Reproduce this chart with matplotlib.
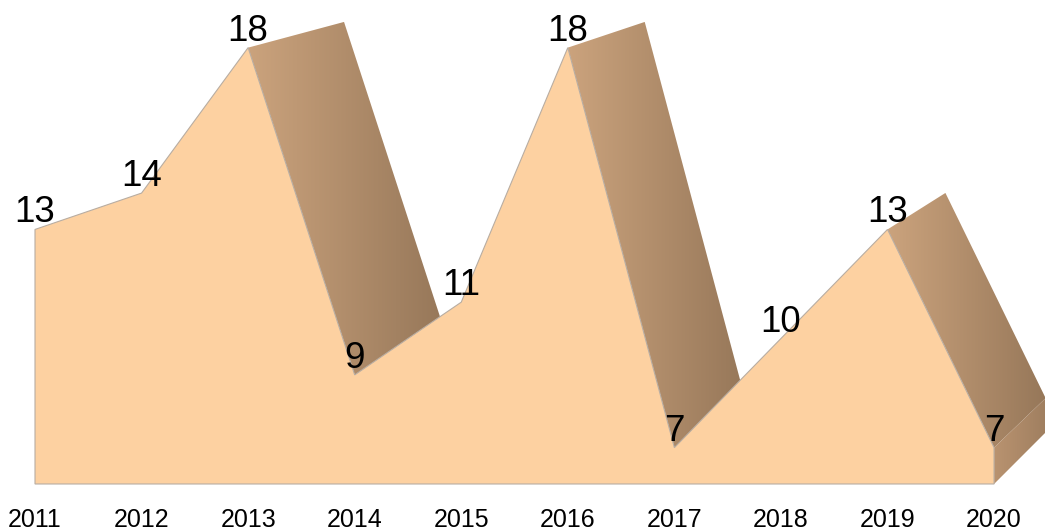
import numpy as np
import matplotlib
matplotlib.use('Agg')
import matplotlib.pyplot as plt
from matplotlib.patches import Polygon
from matplotlib.colors import LinearSegmentedColormap

# ---- data ----
years = ['2011', '2012', '2013', '2014', '2015', '2016', '2017', '2018', '2019', '2020']
values = [13, 14, 18, 9, 11, 18, 7, 10, 13, 7]

# ---- style / geometry parameters ----
Y_MIN = 6
FRONT = '#fdd1a1'
EDGE = '#b8ada2'
SIDE_LIGHT = '#cba37d'
SIDE_DARK = '#967759'
WALL_LIGHT = '#b99370'
WALL_DARK = '#a07f60'
VP = (17.15, 29.9)     # vanishing point (data coords) of the depth direction
DEPTH = 0.0594         # relative depth of the back plane
FONT = ['Liberation Sans', 'DejaVu Sans']

fig = plt.figure(figsize=(10.45, 5.31), dpi=100)
ax = fig.add_axes([0, 0, 1, 1])
XLIM = (-0.3285, 9.478)
YLIM = (4.707, 19.31)

x = np.arange(len(values), dtype=float)
y = np.array(values, dtype=float)


def back(px, py):
    return (px + DEPTH * (VP[0] - px), py + DEPTH * (VP[1] - py))


def cross(a, b, c):
    return (b[0] - a[0]) * (c[1] - a[1]) - (b[1] - a[1]) * (c[0] - a[0])


side_cmap = LinearSegmentedColormap.from_list('side', [SIDE_LIGHT, SIDE_DARK])
wall_cmap = LinearSegmentedColormap.from_list('wall', [WALL_LIGHT, WALL_DARK])
grad = np.linspace(0, 1, 256).reshape(1, -1)

faces = []
# top surfaces between consecutive points
for i in range(len(x) - 1):
    p0 = (x[i], y[i]); p1 = (x[i + 1], y[i + 1])
    faces.append(([p0, p1, back(*p1), back(*p0)], side_cmap))
# end walls
n = len(x) - 1
faces.append(([(x[n], y[n]), (x[n], Y_MIN), back(x[n], Y_MIN), back(x[n], y[n])], wall_cmap))
faces.append(([(x[0], Y_MIN), (x[0], y[0]), back(x[0], y[0]), back(x[0], Y_MIN)], wall_cmap))

for f, cm in faces:
    if cross(f[0], f[1], f[3]) <= 0:
        continue  # back-facing
    poly = Polygon(f, closed=True, facecolor='none', edgecolor='none', zorder=1)
    ax.add_patch(poly)
    xs = [p[0] for p in f]; ys = [p[1] for p in f]
    im = ax.imshow(grad, cmap=cm, extent=(min(xs), max(xs), min(ys), max(ys)),
                   aspect='auto', origin='lower', zorder=1, interpolation='bilinear')
    im.set_clip_path(poly)

front = [(x[0], Y_MIN)] + list(zip(x, y)) + [(x[-1], Y_MIN)]
ax.add_patch(Polygon(front, closed=True, facecolor=FRONT, edgecolor=EDGE,
                     linewidth=0.8, zorder=2))

for xi, v in zip(x, values):
    ax.annotate(str(v), (xi, v), xytext=(0, 7), textcoords='offset pixels',
                ha='center', va='baseline', fontsize=26.5, family=FONT, zorder=3)

for xi, lab in zip(x, years):
    ax.annotate(lab, (xi, Y_MIN), xytext=(0, -43), textcoords='offset pixels',
                ha='center', va='baseline', fontsize=18, family=FONT, zorder=3,
                annotation_clip=False)

ax.set_xlim(*XLIM)
ax.set_ylim(*YLIM)
ax.axis('off')
fig.savefig('out.png', dpi=100, facecolor='white')
